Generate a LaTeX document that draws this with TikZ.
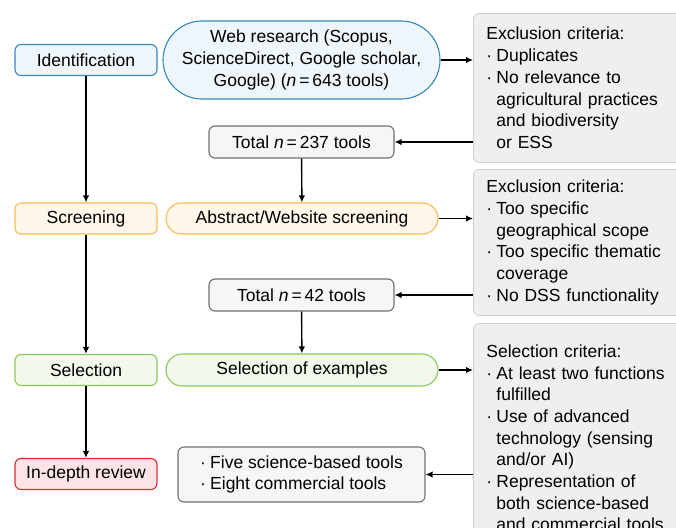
\documentclass[tikz,border=0pt]{standalone}
\usepackage{fontspec}
\setmainfont{Liberation Sans}
\usetikzlibrary{arrows.meta,shapes.misc}
\definecolor{idline}{RGB}{52,136,192}
\definecolor{idfill}{RGB}{239,246,251}
\definecolor{scrline}{RGB}{248,188,82}
\definecolor{scrfill}{RGB}{254,247,234}
\definecolor{selline}{RGB}{140,200,88}
\definecolor{selfill}{RGB}{242,248,236}
\definecolor{revline}{RGB}{224,40,56}
\definecolor{revfill}{RGB}{252,228,230}
\definecolor{boxline}{RGB}{112,112,112}
\definecolor{boxfill}{RGB}{245,246,246}
\definecolor{critline}{RGB}{206,206,206}
\definecolor{critfill}{RGB}{239,239,239}
\newcommand{\itm}{\makebox[10pt][l]{·}}
\newcommand{\hang}{\hspace*{10pt}}
\begin{document}
\begin{tikzpicture}[x=1pt, y=-1pt,
    font=\fontsize{17.5}{21.7}\selectfont,
    stage/.style={draw, rounded corners=6pt, line width=1.1pt, minimum width=142pt, minimum height=31pt, inner sep=0pt},
    pill/.style={rounded rectangle, draw, line width=1.1pt, inner sep=0pt, align=center},
    total/.style={draw=boxline, fill=boxfill, rounded corners=6pt, line width=1.1pt, inner sep=0pt},
    crit/.style={draw=critline, fill=critfill, rounded corners=6pt, line width=0.8pt, anchor=north west, align=left, text width=196pt, inner xsep=13pt, inner ysep=0pt},
    flow/.style={line width=1.4pt, -{Latex[length=7pt,width=6.5pt]}}]
    \useasboundingbox (0,0) rectangle (676,527);
    \clip (0,0) rectangle (676,527);
    % stages
    \node[stage, draw=idline, fill=idfill] (ident) at (86,60) {Identification};
    \node[stage, draw=scrline, fill=scrfill] (scr) at (86,218.5) {Screening};
    \node[stage, draw=selline, fill=selfill] (sel) at (86,370) {Selection};
    \node[stage, draw=revline, fill=revfill] (rev) at (86,474) {In-depth review};
    % process
    \node[pill, draw=idline, fill=idfill, minimum width=277pt, minimum height=78pt] (web) at (301.5,60) {Web research (Scopus,\\ScienceDirect, Google scholar,\\Google) (\textit{n}\,=\,643 tools)};
    \node[total, minimum width=185pt, minimum height=32pt] (n237) at (301.5,142) {Total \textit{n}\,=\,237 tools};
    \node[pill, draw=scrline, fill=scrfill, minimum width=272pt, minimum height=31pt] (abs) at (302,218.5) {Abstract/Website screening};
    \node[total, minimum width=185pt, minimum height=32pt] (n42) at (301.5,295) {Total \textit{n}\,=\,42 tools};
    \node[pill, draw=selline, fill=selfill, minimum width=272pt, minimum height=32pt] (exm) at (302,370) {Selection of examples};
    \node[total, minimum width=247pt, minimum height=55pt, align=left] (final) at (301.5,474.5) {\itm Five science-based tools\\\itm Eight commercial tools};
    % criteria
    \node[crit, minimum height=149pt] (excl1) at (473,13) {Exclusion criteria:\\\itm Duplicates\\\itm No relevance to\\\hang agricultural practices\\\hang and biodiversity\\\hang or ESS};
    \node[crit, minimum height=146pt] (excl2) at (473,169) {Exclusion criteria:\\\itm Too specific\\\hang geographical scope\\\itm Too specific thematic\\\hang coverage\\\itm No DSS functionality};
    \node[crit, minimum height=229pt] (selc) at (473,323) {Selection criteria:\\\itm At least two functions\\\hang fulfilled\\\itm Use of advanced\\\hang technology (sensing\\\hang and/or AI)\\\itm Representation of\\\hang both science-based\\\hang and commercial tools};
    % connectors
    \draw[flow] (ident) -- (scr);
    \draw[flow] (scr) -- (sel);
    \draw[flow] (sel) -- (rev);
    \draw[flow] (n237) -- (abs);
    \draw[flow] (n42) -- (exm);
    \draw[flow] (web.east) -- (web.east -| excl1.west);
    \draw[flow] (excl1.west |- n237) -- (n237.east);
    \draw[flow] (abs.east) -- (abs.east -| excl2.west);
    \draw[flow] (excl2.west |- n42) -- (n42.east);
    \draw[flow] (exm.east) -- (exm.east -| selc.west);
    \draw[flow] (selc.west |- final) -- (final.east);
\end{tikzpicture}
\end{document}
